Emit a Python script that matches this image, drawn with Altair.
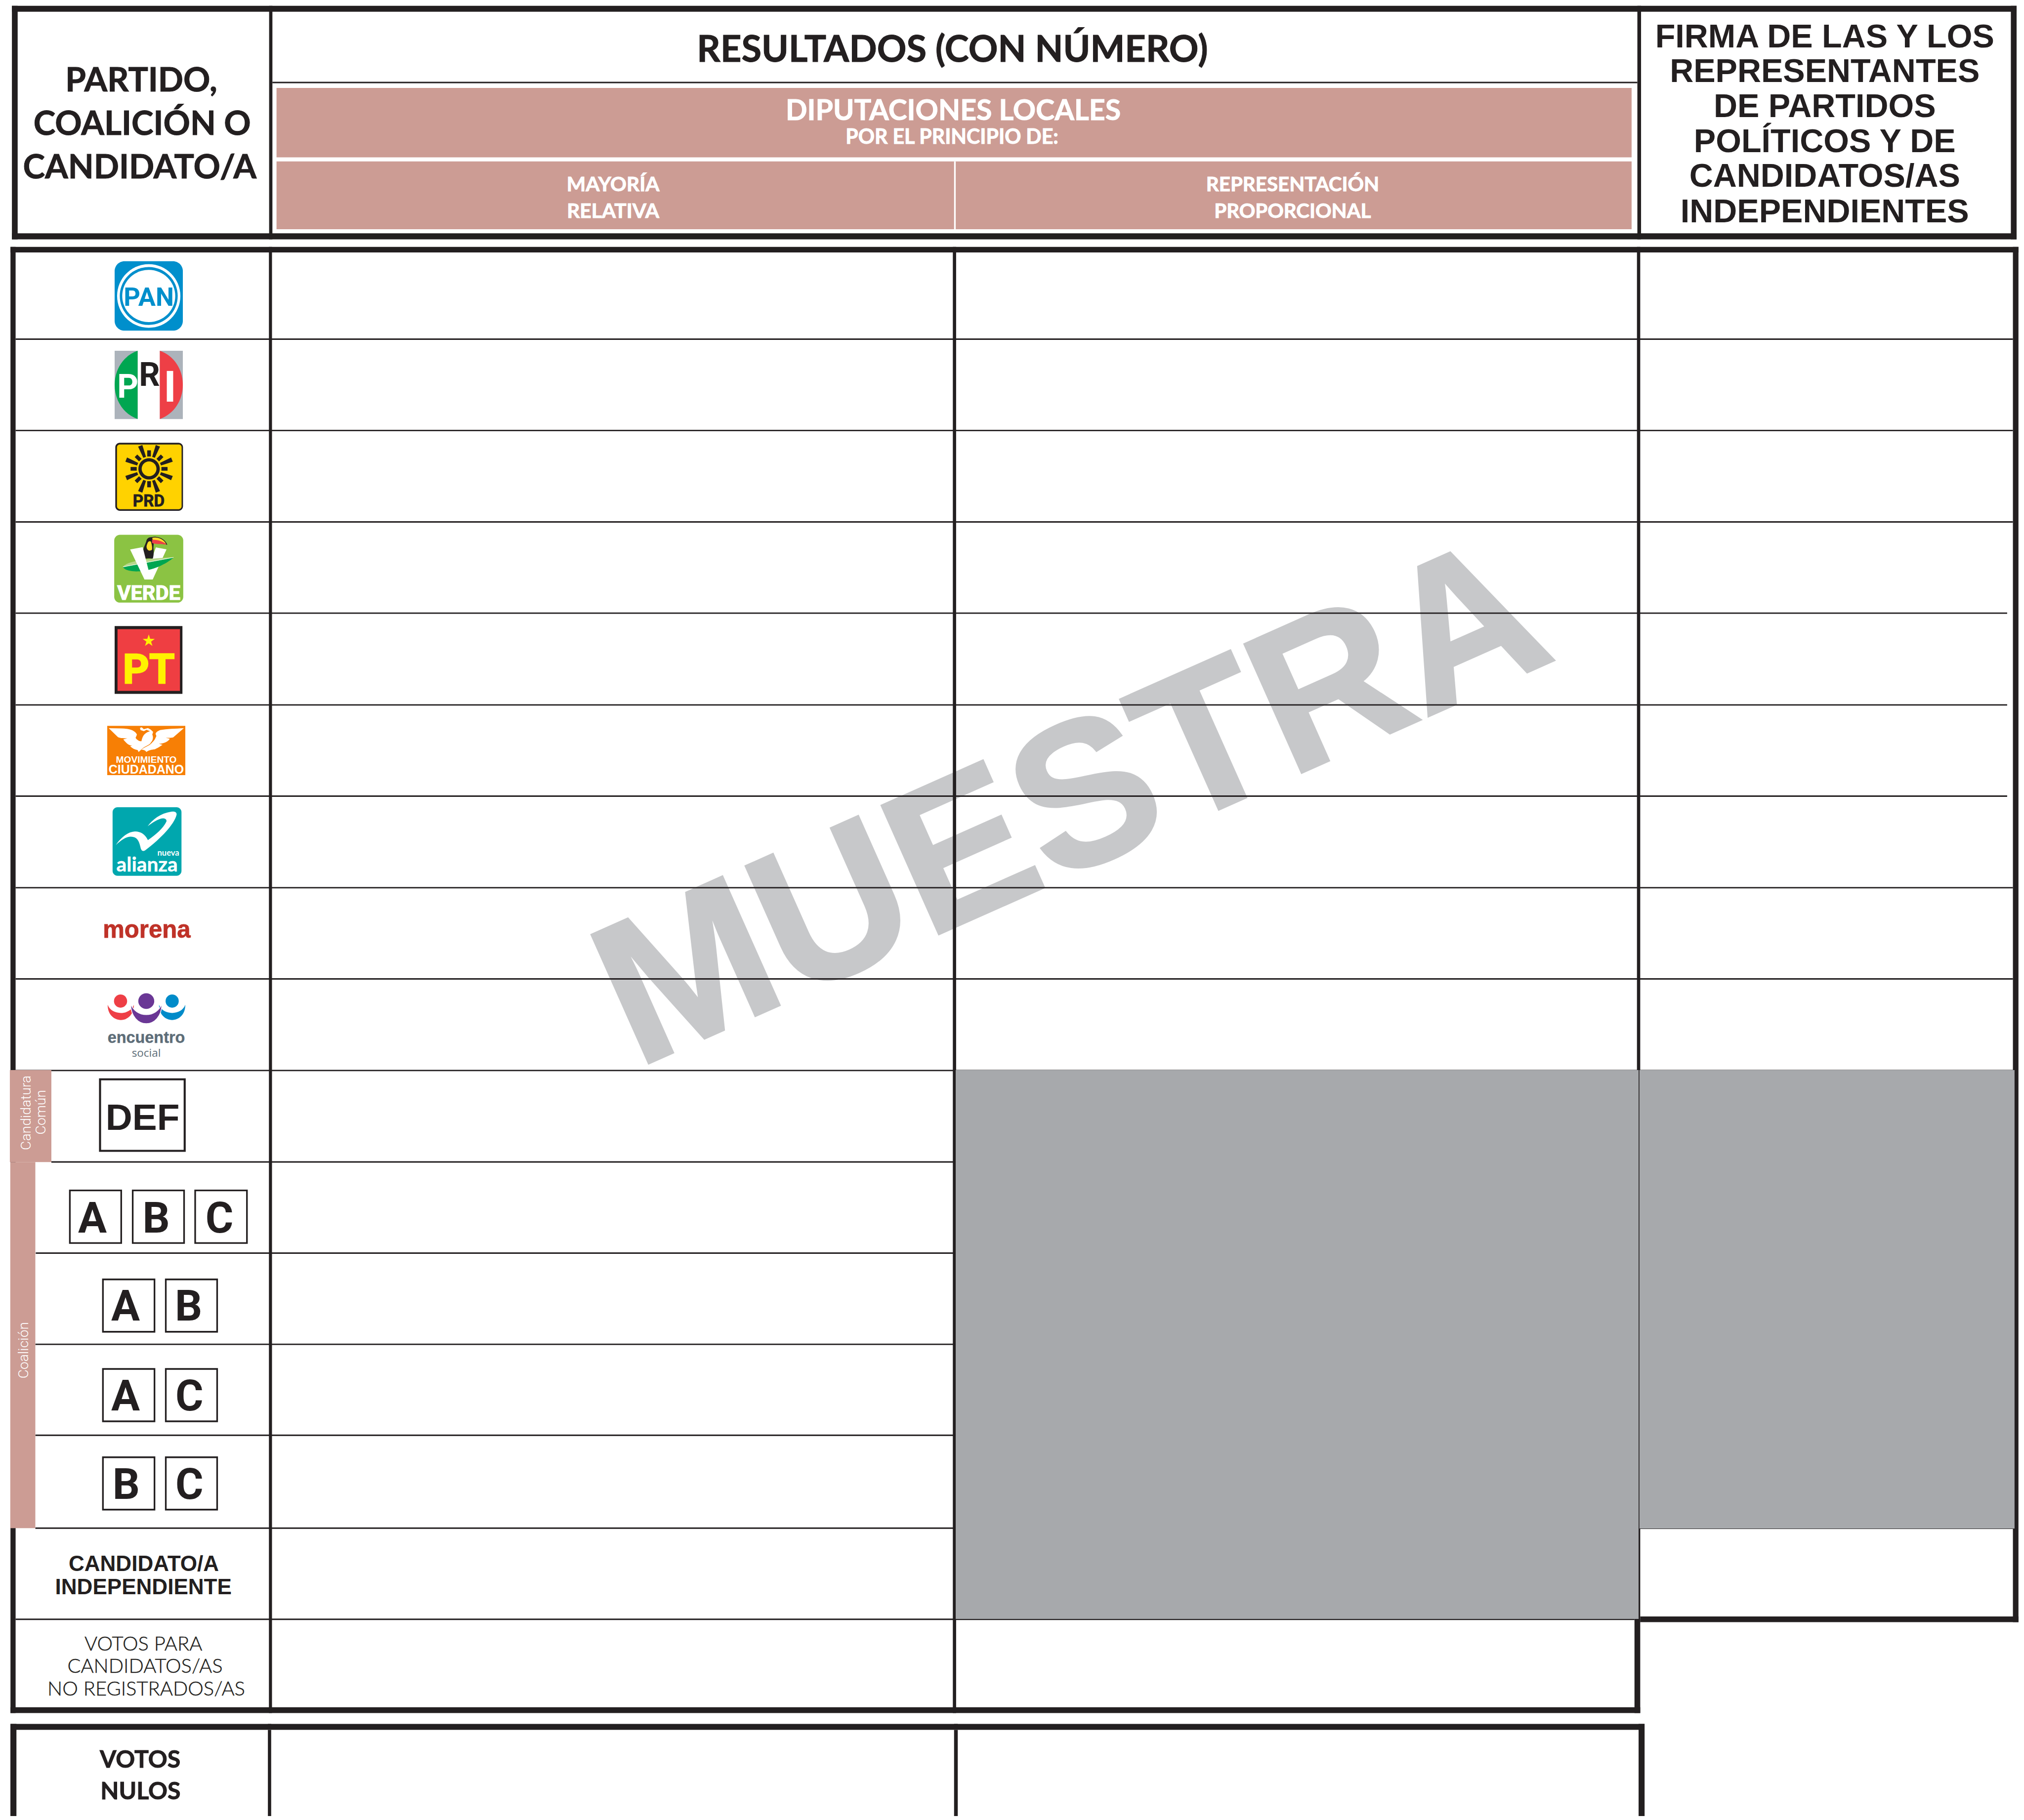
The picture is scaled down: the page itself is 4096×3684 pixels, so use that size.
import re, math
import altair as alt
import pandas as pd

S = 4096 / 4926
PLOT_W, PLOT_H = 4080, 3668
INK = "#231F20"; PINK = "#CC9C94"; GREY = "#A7A9AC"; WM = "#C7C8CA"; W = "#FFFFFF"
HEAD = "Lato"; ARIAL = "Liberation Sans"; ROBOTO = "Roboto"

# grid (reference pixels)
ROW_Y = [825.6, 1048, 1270.5, 1492.6, 1716, 1938, 2161, 2383, 2606, 2828.6, 3050.5, 3272.5, 3494, 3720, 3942]
ROW_START = [38, 38, 38, 38, 38, 38, 38, 38, 38, 125, 87, 86, 86, 86, 38]
ROW_END = [4899, 4899, 4899, 4885, 4885, 4885, 4899, 4899, 4899, 4899, 4899, 4899, 4899, 4899, 3978]

# x, x2, y, y2, fill
BARS = [
    # header box
    (29, 4908, 14, 28.6, INK), (29, 4908, 568, 582.6, INK), (29, 43, 14, 582.6, INK), (4894, 4908, 14, 582.6, INK),
    (655, 663, 14, 582.6, INK), (3985, 3994, 14, 582.6, INK), (663, 3985, 199, 202.5, INK),
    (673, 3971, 214, 383, PINK), (673, 3971, 393, 558, PINK), (2322, 2326, 393, 558, W),
    # body box
    (25.5, 4912.5, 601, 614.5, INK), (25.5, 38, 601, 4170, INK), (4899, 4912.5, 601, 3949, INK),
    (654.5, 662, 601, 4170, INK), (2319, 2327, 601, 4170, INK), (3984, 3992, 601, 3949, INK),
    (25.5, 3992, 4156, 4170, INK), (3978, 3992, 3941, 4170, INK), (3992, 4912.5, 3935, 3949, INK),
    # bottom box
    (25.5, 4002.5, 4196.5, 4440, INK), (25.5, 40, 4196.5, 4440, INK), (3988, 4002.5, 4196.5, 4440, INK),
    (652, 660, 4196.5, 4440, INK), (2322, 2331, 4196.5, 4440, INK),
    # shaded blocks
    (3990, 4899, 3720, 3722, INK),
    (2326, 3988, 2605, 3941, GREY), (3990, 4903, 2605, 3721, GREY),
    (24, 125, 2605, 2829, PINK), (25, 86, 2829, 3720, PINK),
    # logos, plain rectangles
    (279, 335, 854, 1020, "#ACB3BB"), (389, 445, 854, 1020, "#ACB3BB"),
    (279, 444, 1524, 1689, INK), (286, 438, 1531.5, 1682, "#EF3E42"),
    (261, 451, 1767, 1887, "#F77F05"),
]
BOTTOM_WHITE = (40, 3988, 4211, 4440)
BOTTOM_COLS = [(652, 660), (2322, 2331)]
# outlined boxes: x, x2, y, y2, stroke width
FRAMES = [
    (243.5, 449.5, 2627.5, 2801.5, 5),
    (170, 295, 2898, 3026, 4), (323, 448, 2898, 3026, 4), (475, 601, 2898, 3026, 4),
    (250.5, 376, 3114.5, 3242, 4), (403.5, 528.5, 3114.5, 3242, 4),
    (250.5, 376, 3332.5, 3460, 4), (403.5, 528.5, 3332.5, 3460, 4),
    (250.5, 376, 3547.5, 3675, 4), (403.5, 528.5, 3547.5, 3675, 4),
]

# text, x, y(baseline), size, colour, font, weight, angle, stroke
TEXTS = [
    ("PARTIDO,", 344, 222, 81, INK, HEAD, "bold", 0, 1.2), ("COALICIÓN O", 346, 328, 81, INK, HEAD, "bold", 0, 1.2),
    ("CANDIDATO/A", 340, 434, 81, INK, HEAD, "bold", 0, 1.2),
    ("RESULTADOS (CON NÚMERO)", 2318, 150, 89, INK, HEAD, "bold", 0, 1.2),
    ("DIPUTACIONES LOCALES", 2320, 292, 69, W, HEAD, "bold", 0, 1.2),
    ("POR EL PRINCIPIO DE:", 2317, 350, 49.5, W, HEAD, "bold", 0, 1.2),
    ("MAYORÍA", 1492, 466, 49, W, HEAD, "bold", 0, 1.2), ("RELATIVA", 1492, 530, 49, W, HEAD, "bold", 0, 1.2),
    ("REPRESENTACIÓN", 3146, 466, 48.5, W, HEAD, "bold", 0, 1.2), ("PROPORCIONAL", 3146, 530, 48.5, W, HEAD, "bold", 0, 1.2),
    ("FIRMA DE LAS Y LOS", 4441, 115, 80, INK, ARIAL, "bold", 0, 0), ("REPRESENTANTES", 4441, 200, 80, INK, ARIAL, "bold", 0, 0),
    ("DE PARTIDOS", 4441, 285, 80, INK, ARIAL, "bold", 0, 0), ("POLÍTICOS Y DE", 4441, 370.5, 80, INK, ARIAL, "bold", 0, 0),
    ("CANDIDATOS/AS", 4441, 455, 80, INK, ARIAL, "bold", 0, 0), ("INDEPENDIENTES", 4441, 541.5, 80, INK, ARIAL, "bold", 0, 0),
    ("CANDIDATO/A", 350, 3824, 53, INK, ARIAL, "bold", 0, 0), ("INDEPENDIENTE", 349, 3880.6, 53, INK, ARIAL, "bold", 0, 0),
    ("VOTOS PARA", 349, 4017.6, 48, INK, HEAD, "300", 0, 0.6), ("CANDIDATOS/AS", 353, 4072, 48, INK, HEAD, "300", 0, 0.6),
    ("NO REGISTRADOS/AS", 356, 4127, 48, INK, HEAD, "300", 0, 0.6),
    ("VOTOS", 341, 4302.5, 58, INK, HEAD, "bold", 0, 1.2), ("NULOS", 342, 4379.7, 58, INK, HEAD, "bold", 0, 1.2),
    ("Candidatura", 75, 2709, 34, W, ROBOTO, "300", 270, 0), ("Común", 110.7, 2707.5, 34, W, ROBOTO, "300", 270, 0),
    ("Coalición", 68, 3287, 34, W, ROBOTO, "300", 270, 0),
    ("DEF", 347, 2751, 90, INK, ARIAL, "bold", 0, 0),
    ("A", 225, 3000, 104, INK, ROBOTO, "bold", 0, 0), ("B", 380, 3000, 104, INK, ROBOTO, "bold", 0, 0), ("C", 534, 3000, 104, INK, ROBOTO, "bold", 0, 0),
    ("A", 305.6, 3215, 104, INK, ROBOTO, "bold", 0, 0), ("B", 459, 3215, 104, INK, ROBOTO, "bold", 0, 0),
    ("A", 305.6, 3433, 104, INK, ROBOTO, "bold", 0, 0), ("C", 461, 3433, 104, INK, ROBOTO, "bold", 0, 0),
    ("B", 307, 3649, 104, INK, ROBOTO, "bold", 0, 0), ("C", 461, 3649, 104, INK, ROBOTO, "bold", 0, 0),
    # logo lettering
    ("PAN", 362, 745, 63, "#008FCC", ROBOTO, "bold", 0, 0),
    ("P", 311, 968, 80, W, ROBOTO, "bold", 0, 0), ("R", 364, 939, 80, INK, ROBOTO, "bold", 0, 0), ("I", 413.7, 978, 105, W, ROBOTO, "bold", 0, 0),
    ("PRD", 362, 1233, 40, INK, ROBOTO, "bold", 0, 1),
    ("VERDE", 362, 1460, 50, W, ROBOTO, "bold", 0, 1.5),
    ("PT", 362, 1663, 100, "#FFF200", ROBOTO, "bold", 0, 3),
    ("MOVIMIENTO", 356, 1857, 23, W, ARIAL, "bold", 0, 0), ("CIUDADANO", 356, 1883, 30, W, ARIAL, "bold", 0, 0),
    ("nueva", 409.6, 2083, 20, W, HEAD, "bold", 0, 0), ("alianza", 358, 2121.7, 49, W, HEAD, "bold", 0, 0.5),
    ("morena", 357, 2283, 59, "#BF3228", ARIAL, "bold", 0, 1),
    ("encuentro", 356, 2539, 39, "#5D6D78", ARIAL, "bold", 0, 0.5), ("social", 356, 2573, 27, "#5D6D78", "Open Sans", "normal", 0, 0),
]


def zoomed(path, ox, oy, k=3):
    return re.sub(r"(-?\d+\.?\d*),(-?\d+\.?\d*)", lambda m: f"{ox + float(m[1]) / k:.2f},{oy + float(m[2]) / k:.2f}", path)


def ell(cx, cy, rx, ry):
    kx, ky = rx * .5523, ry * .5523
    return (f"M{cx - rx},{cy} C{cx - rx},{cy - ky} {cx - kx},{cy - ry} {cx},{cy - ry} "
            f"C{cx + kx},{cy - ry} {cx + rx},{cy - ky} {cx + rx},{cy} "
            f"C{cx + rx},{cy + ky} {cx + kx},{cy + ry} {cx},{cy + ry} "
            f"C{cx - kx},{cy + ry} {cx - rx},{cy + ky} {cx - rx},{cy} Z")


def rrect(x0, y0, x1, y1, r):
    c = r * .4477
    return (f"M{x0 + r},{y0} L{x1 - r},{y0} C{x1 - c},{y0} {x1},{y0 + c} {x1},{y0 + r} "
            f"L{x1},{y1 - r} C{x1},{y1 - c} {x1 - c},{y1} {x1 - r},{y1} "
            f"L{x0 + r},{y1} C{x0 + c},{y1} {x0},{y1 - c} {x0},{y1 - r} "
            f"L{x0},{y0 + r} C{x0},{y0 + c} {x0 + c},{y0} {x0 + r},{y0} Z")


def ray(cx, cy, deg, r0, r1, w0, w1):
    a = math.radians(deg)
    ux, uy = math.sin(a), -math.cos(a)
    vx, vy = -uy, ux
    pts = [(cx + ux * r0 - vx * w0 / 2, cy + uy * r0 - vy * w0 / 2), (cx + ux * r1 - vx * w1 / 2, cy + uy * r1 - vy * w1 / 2),
           (cx + ux * r1 + vx * w1 / 2, cy + uy * r1 + vy * w1 / 2), (cx + ux * r0 + vx * w0 / 2, cy + uy * r0 + vy * w0 / 2)]
    return "M" + " L".join(f"{x:.2f},{y:.2f}" for x, y in pts) + " Z"


def star(cx, cy, r0, r1):
    pts = []
    for i in range(10):
        r = r0 if i % 2 == 0 else r1
        a = math.radians(36 * i)
        pts.append((cx + r * math.sin(a), cy - r * math.cos(a)))
    return "M" + " L".join(f"{x:.2f},{y:.2f}" for x, y in pts) + " Z"


def crescent(xl, xr, yt, yi, yb):
    w = xr - xl
    ci = yt + (yi - yt) / .75
    cb = yt + (yb - yt) / .75
    return f"M{xl},{yt} C{xl + .15 * w},{ci} {xr - .15 * w},{ci} {xr},{yt} C{xr},{cb} {xl},{cb} {xl},{yt} Z"


SUN_SHORT = [0, 45, 90, 135, 180, 225, 270, 315]
SUN_LONG = [21, 68, 112, 159, 201, 248, 292, 339]

# fill, outline, path in reference pixels
LOGOS = [
    ("#008FCC", None, rrect(279, 636, 445, 805, 24)), (W, None, ell(362, 720.5, 77, 77.5)),
    ("#008FCC", None, ell(362, 720.5, 70.5, 70.5)), (W, None, ell(362, 720.5, 64.5, 63.7)),
    ("#00A651", None, "M335,854 C300,866 279,900 279,937 C279,974 300,1008 335,1020 Z"),
    ("#EE3F46", None, "M389,854 C424,866 445,900 445,937 C445,974 424,1008 389,1020 Z"),
    (INK, None, rrect(280.6, 1078, 445.4, 1243.5, 11)), ("#FFD200", None, rrect(284.7, 1082, 442, 1239.5, 7)),
    (INK, None, ell(362.8, 1141.3, 26, 26)), ("#FFD200", None, ell(362.8, 1141.3, 18, 18)),
    *[(INK, None, ray(362.8, 1141.3, d, 30, 45, 9, 9)) for d in SUN_SHORT],
    *[(INK, None, ray(362.8, 1141.3, d, 30, 60, 7, 11)) for d in SUN_LONG],
    ("#8BC343", None, rrect(278, 1302, 446, 1467, 14)),
    (W, None, zoomed("M358,128 L436,142 L335,362 L275,362 Z", 260, 1290)),
    (INK, None, zoomed("M262,165 C265,130 285,100 290,75 C300,50 330,50 345,60 L340,130 C345,170 340,200 335,210 C310,205 290,210 270,210 C262,195 260,180 262,165 Z", 260, 1290)),
    ("#FFDD2B", None, zoomed("M290,120 C295,95 305,75 322,85 C330,110 332,130 330,145 C310,160 290,145 290,120 Z", 260, 1290)),
    ("#FFDD2B", INK, zoomed("M330,55 C370,45 420,65 437,105 C400,95 360,100 330,70 Z", 260, 1290)),
    ("#EE3F46", None, zoomed("M330,72 C370,70 415,85 437,107 C400,102 350,105 330,95 Z", 260, 1290)),
    (INK, None, zoomed(ell(320, 73, 6, 6), 260, 1290)),
    ("#B7D78B", None, zoomed("M118,268 C160,225 290,210 485,200 L230,258 Z", 260, 1290)),
    ("#00A651", None, zoomed("M118,272 L487,202 C430,250 340,295 230,303 C180,305 130,295 118,272 Z", 260, 1290)),
    (W, None, zoomed("M118,268 L487,199 L487,202 L118,272 Z", 260, 1290)),
    (W, None, zoomed("M170,143 L262,126 L305,295 L335,362 L275,362 Z", 260, 1290)),
    ("#FFF200", None, star(362, 1560, 15.5, 6)),
    (W, None, zoomed("M44,158 L140,160 C190,162 235,172 250,205 L240,228 C250,245 270,255 283,253 C288,225 300,200 325,188 L345,180 L320,170 L300,180 L276,172 L272,155 L285,152 L300,165 L330,157 L350,168 L368,185 L362,205 C372,225 365,250 352,262 C345,270 350,280 380,240 L392,215 L386,200 C388,188 400,180 420,172 C470,162 530,162 592,158 L515,225 C500,230 470,228 460,228 L490,235 C480,255 450,270 410,272 L437,280 C425,285 410,300 380,312 C355,315 335,318 318,332 C315,322 300,315 280,315 L262,332 L255,318 C235,315 215,305 200,290 L215,285 C190,285 170,265 150,240 L180,232 C150,232 120,230 110,222 Z", 250, 1720)),
    ("#F77F05", None, zoomed("M278,318 C300,296 340,288 358,265 L354,263 C338,285 298,292 278,318 Z", 250, 1720)),
    ("#00A7AE", None, rrect(274, 1965, 441.7, 2132, 12)),
    (W, None, zoomed("M95,322 C130,270 180,225 235,222 C280,222 310,245 330,285 C390,245 440,200 465,150 C470,130 445,122 420,130 C390,140 360,160 328,184 C365,135 420,90 500,78 C530,72 545,85 538,105 C520,170 430,270 310,360 C290,372 280,360 275,335 C265,290 250,260 205,260 C165,260 125,295 95,322 Z", 250, 1950)),
    ("#EE3F46", None, ell(293.4, 2437, 16, 16)), ("#008BC9", None, ell(419, 2437, 16, 16)), ("#6A3795", None, ell(356, 2437, 19.4, 19)),
    ("#EE3F46", None, crescent(262, 326, 2446, 2466, 2483)), ("#008BC9", None, crescent(387, 451, 2446, 2466, 2483)),
    ("#6A3795", W, crescent(318, 394, 2442.5, 2470, 2492)),
]

WATERMARK = ("MUESTRA", 1549, 2601.5, 497)

XS = alt.Scale(domain=[8 / S, (8 + PLOT_W) / S], nice=False, zero=False)
YS = alt.Scale(domain=[(8 + PLOT_H) / S, 8 / S], nice=False, zero=False)
X = lambda f="x": alt.X(f"{f}:Q", scale=XS, axis=None)
Y = lambda f="y": alt.Y(f"{f}:Q", scale=YS, axis=None)
FILL = alt.Fill("fill:N", scale=None, legend=None)

layers = []

wm = pd.DataFrame([{"t": WATERMARK[0], "x": WATERMARK[1], "y": WATERMARK[2]}])
layers.append(alt.Chart(wm).mark_text(align="left", baseline="alphabetic", angle=336, font=ARIAL, fontWeight="bold",
                                      fontSize=WATERMARK[3] * S, fill=WM, stroke=WM, strokeWidth=5).encode(x=X(), y=Y(), text="t:N"))

rows = [(a, b, y - 1.75, y + 1.75, INK) for y, a, b in zip(ROW_Y, ROW_START, ROW_END)]
white = [(*BOTTOM_WHITE, W)] + [(a, b, 4211, 4440, INK) for a, b in BOTTOM_COLS]
bars = pd.DataFrame(rows + BARS + white, columns=["x", "x2", "y", "y2", "fill"])
layers.append(alt.Chart(bars).mark_rect(strokeWidth=0, clip=True).encode(x=X(), x2="x2:Q", y=Y(), y2="y2:Q", fill=FILL))

for sw, g in pd.DataFrame(FRAMES, columns=["x", "x2", "y", "y2", "sw"]).groupby("sw"):
    layers.append(alt.Chart(g).mark_rect(fillOpacity=0, stroke=INK, strokeWidth=sw * S).encode(x=X(), x2="x2:Q", y=Y(), y2="y2:Q"))

for fill, line, path in LOGOS:
    m = re.search(r"(-?\d+\.?\d*),(-?\d+\.?\d*)", path)
    ax, ay = float(m[1]), float(m[2])
    local = re.sub(r"(-?\d+\.?\d*),(-?\d+\.?\d*)", lambda k: f"{float(k[1]) - ax:.2f},{float(k[2]) - ay:.2f}", path)
    kw = dict(stroke=line, strokeWidth=1.5) if line else dict(strokeWidth=0)
    layers.append(alt.Chart(pd.DataFrame([{"x": ax, "y": ay}])).mark_point(
        shape=local, size=(2 * S) ** 2, filled=True, fill=fill, opacity=1, **kw).encode(x=X(), y=Y()))

txt = pd.DataFrame(TEXTS, columns=["t", "x", "y", "size", "fill", "font", "weight", "angle", "sw"])
txt["size"] = txt["size"] * S
for (font, weight, angle, sw), g in txt.groupby(["font", "weight", "angle", "sw"], sort=False):
    kw = dict(strokeWidth=sw * S) if sw else {}
    enc = dict(x=X(), y=Y(), text="t:N", size=alt.Size("size:Q", scale=None, legend=None), fill=FILL)
    if sw:
        enc["stroke"] = alt.Stroke("fill:N", scale=None, legend=None)
    wt = int(weight) if weight.isdigit() else weight
    layers.append(alt.Chart(g).mark_text(align="center", baseline="alphabetic", font=font, fontWeight=wt, angle=angle, **kw).encode(**enc))

chart = alt.layer(*layers).properties(width=PLOT_W, height=PLOT_H, padding=0, background="white").configure_view(strokeWidth=0)
chart.save("out.html", embed_options={"renderer": "svg", "actions": False})
